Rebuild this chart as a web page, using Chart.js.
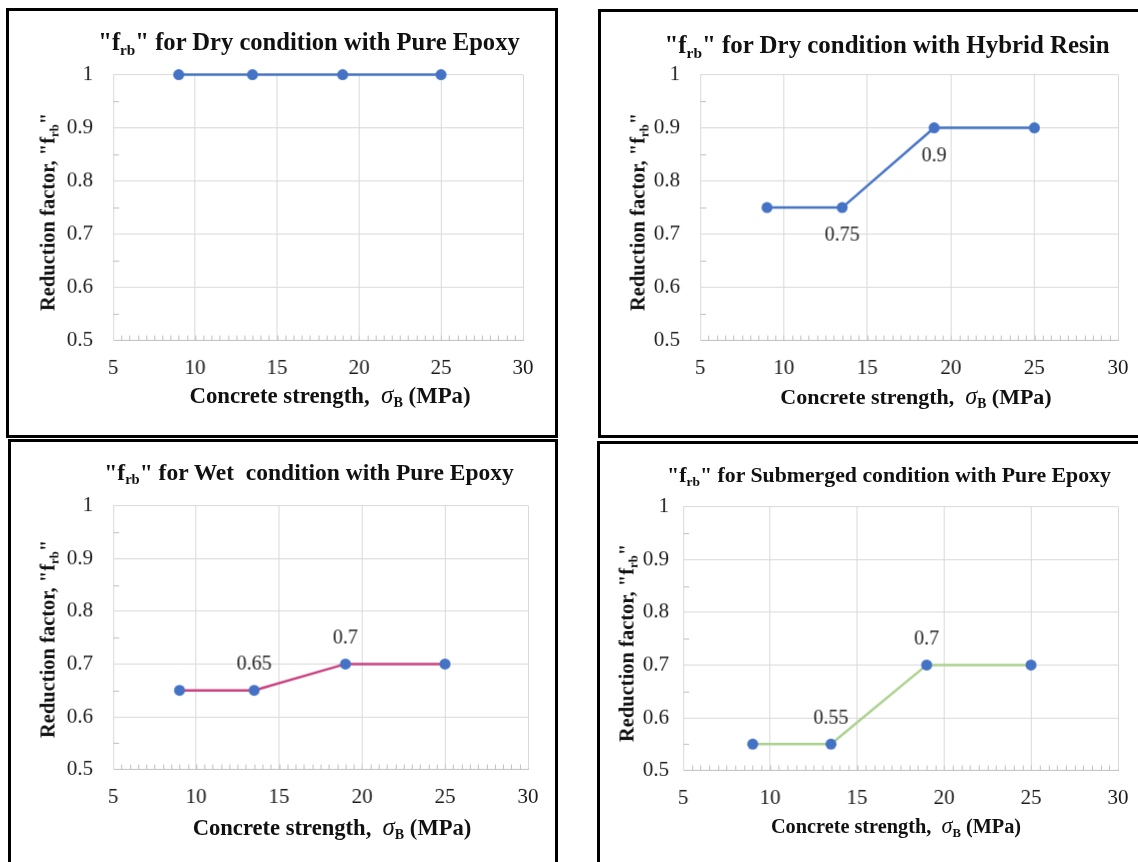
<!DOCTYPE html>
<html>
<head>
<meta charset="utf-8">
<script src="https://cdn.jsdelivr.net/npm/chart.js@4"></script>
<style>
    body { margin: 0; width: 1138px; height: 862px; background: #fff; position: relative; overflow: hidden; font-family: "Liberation Serif", "Times New Roman", Tinos, "DejaVu Serif", serif; }
    .panel { position: absolute; border: 3.5px solid #000; box-sizing: border-box; }
    canvas { position: absolute; }
    .txt { position: absolute; transform: translate(-50%, -50%); white-space: nowrap; color: #111; font-weight: bold; }
    .ytitle { font-size: 20.5px; transform: translate(-50%, -50%) rotate(-90deg); }
    sub { font-size: 0.62em; vertical-align: -0.3em; line-height: 0; }
    .sig { font-style: italic; font-weight: normal; font-size: 1.1em; }
</style>
</head>
<body>
<script>
// Data
const strength = [9, 13.5, 19, 25];
const frbDryEpoxy = [1, 1, 1, 1];
const frbDryHybrid = [0.75, 0.75, 0.9, 0.9];
const frbWetEpoxy = [0.65, 0.65, 0.7, 0.7];
const frbSubEpoxy = [0.55, 0.55, 0.7, 0.7];

const xTicks = [5, 10, 15, 20, 25, 30];
const yTicks = [0.5, 0.6, 0.7, 0.8, 0.9, 1];

// labels shown next to points: [point index, 'above' | 'below']
const dryHybridLabels = [[1, 'below'], [2, 'below']];
const wetEpoxyLabels = [[1, 'above'], [2, 'above']];
const subEpoxyLabels = [[1, 'above'], [2, 'above']];

const SERIF = '"Liberation Serif", "Times New Roman", Tinos, "DejaVu Serif", serif';

const panels = [
    {
        box: [6, 8, 552, 430],
        plot: [113, 75, 522, 340],
        title: '"f<sub>rb</sub>" for Dry condition with Pure Epoxy',
        titlePos: [309, 42], xTitlePos: [330, 395], yTitlePos: [48, 212],
        titleSize: 24.6, axisSize: 22.8, yPad: 20,
        values: frbDryEpoxy, color: '#4472C4', labels: []
    },
    {
        box: [598, 9, 560, 429],
        plot: [700, 75, 1117, 340],
        title: '"f<sub>rb</sub>" for Dry condition with Hybrid Resin',
        titlePos: [887, 45], xTitlePos: [916, 396], yTitlePos: [638, 212],
        titleSize: 24.9, axisSize: 22, yPad: 20,
        values: frbDryHybrid, color: '#4472C4', labels: dryHybridLabels
    },
    {
        box: [8, 439, 550, 440],
        plot: [113, 506, 527, 769],
        title: '"f<sub>rb</sub>" for Wet&nbsp; condition with Pure Epoxy',
        titlePos: [309, 472], xTitlePos: [332, 827], yTitlePos: [48, 639],
        titleSize: 23.5, axisSize: 22.6, yPad: 20,
        values: frbWetEpoxy, color: '#C9407F', labels: wetEpoxyLabels
    },
    {
        box: [597, 441, 560, 440],
        plot: [683, 507, 1117, 770],
        title: '"f<sub>rb</sub>" for Submerged condition with Pure Epoxy',
        titlePos: [889, 475], xTitlePos: [896, 826], yTitlePos: [627, 643],
        titleSize: 21.8, axisSize: 20.3, yPad: 14,
        values: frbSubEpoxy, color: '#A9D18E', labels: subEpoxyLabels
    }
];

const PAD_L = 72, PAD_R = 18, PAD_B = 46;

// Minor tick marks inside the plot, placed through the scales
const minorTicks = {
    id: 'minorTicks',
    afterDatasetsDraw(chart) {
        const { ctx, chartArea, scales } = chart;
        ctx.save();
        ctx.strokeStyle = '#bfbfbf';
        ctx.lineWidth = 1;
        ctx.beginPath();
        for (let v = 5.5; v < 30; v += 0.5) {
            const px = Math.round(scales.x.getPixelForValue(v)) + 0.5;
            ctx.moveTo(px, chartArea.bottom);
            ctx.lineTo(px, chartArea.bottom - 5);
        }
        for (let v = 0.55; v < 1; v += 0.1) {
            const py = Math.round(scales.y.getPixelForValue(v)) + 0.5;
            ctx.moveTo(chartArea.left, py);
            ctx.lineTo(chartArea.left + 6, py);
        }
        ctx.stroke();
        ctx.restore();
    }
};

// Value labels next to chosen points
const valueLabels = {
    id: 'valueLabels',
    afterDatasetsDraw(chart, args, opts) {
        const { ctx } = chart;
        const meta = chart.getDatasetMeta(0);
        const data = chart.data.datasets[0].data;
        ctx.save();
        ctx.font = '20px ' + SERIF;
        ctx.fillStyle = '#222';
        ctx.textAlign = 'center';
        ctx.textBaseline = 'middle';
        (opts.items || []).forEach(([i, where]) => {
            const pt = meta.data[i];
            const dy = where === 'above' ? -26 : 28;
            ctx.fillText(String(data[i].y), pt.x, pt.y + dy);
        });
        ctx.restore();
    }
};

function addText(cls, html, pos, size) {
    const d = document.createElement('div');
    d.className = 'txt ' + cls;
    d.innerHTML = html;
    d.style.left = pos[0] + 'px';
    d.style.top = pos[1] + 'px';
    if (size) d.style.fontSize = size + 'px';
    document.body.appendChild(d);
}

function makePanel(p) {
    const box = document.createElement('div');
    box.className = 'panel';
    box.style.left = p.box[0] + 'px';
    box.style.top = p.box[1] + 'px';
    box.style.width = p.box[2] + 'px';
    box.style.height = p.box[3] + 'px';
    document.body.appendChild(box);

    const [x0, y0, x1, y1] = p.plot;
    let w = (x1 - x0) + PAD_L + PAD_R;
    let h = (y1 - y0) + 20 + PAD_B;
    const canvas = document.createElement('canvas');
    canvas.width = w;
    canvas.height = h;
    document.body.appendChild(canvas);

    const chart = new Chart(canvas.getContext('2d'), {
        type: 'line',
        data: {
            datasets: [{
                data: strength.map((x, i) => ({ x: x, y: p.values[i] })),
                borderColor: p.color,
                borderWidth: 2.5,
                pointRadius: 5.5,
                pointBackgroundColor: '#4472C4',
                pointBorderWidth: 0,
                tension: 0,
                clip: false
            }]
        },
        options: {
            responsive: false,
            maintainAspectRatio: false,
            animation: false,
            devicePixelRatio: 1,
            layout: { padding: { left: 0, top: 0, right: PAD_R, bottom: 0 } },
            plugins: {
                legend: { display: false },
                tooltip: { enabled: false },
                valueLabels: { items: p.labels }
            },
            scales: {
                x: {
                    type: 'linear', min: 5, max: 30,
                    afterBuildTicks: s => { s.ticks = xTicks.map(v => ({ value: v })); },
                    afterFit: s => { s.height = PAD_B; },
                    grid: { color: '#d9d9d9', lineWidth: 1, drawTicks: false },
                    border: { color: '#bfbfbf', width: 1 },
                    ticks: {
                        padding: 15,
                        color: '#1a1a1a',
                        font: { family: SERIF, size: 21 },
                        maxRotation: 0
                    }
                },
                y: {
                    min: 0.5, max: 1,
                    afterBuildTicks: s => { s.ticks = yTicks.map(v => ({ value: v })); },
                    afterFit: s => { s.width = PAD_L; },
                    grid: { color: '#d9d9d9', lineWidth: 1, drawTicks: false },
                    border: { color: '#d9d9d9', width: 1 },
                    ticks: {
                        padding: p.yPad,
                        color: '#1a1a1a',
                        font: { family: SERIF, size: 21 },
                        callback: v => String(v)
                    }
                }
            }
        },
        plugins: [minorTicks, valueLabels]
    });

    // fit the canvas so the library's plot area lands on the wanted rectangle
    for (let k = 0; k < 2; k++) {
        const a = chart.chartArea;
        w += (x1 - x0) - (a.right - a.left);
        h += (y1 - y0) - (a.bottom - a.top);
        chart.resize(w, h);
    }
    const b = chart.chartArea;
    canvas.style.left = (x0 - b.left) + 'px';
    canvas.style.top = (y0 - b.top) + 'px';

    addText('title', p.title, p.titlePos, p.titleSize);
    addText('axis', 'Concrete strength,&nbsp; <span class="sig">σ</span><sub>B</sub> (MPa)', p.xTitlePos, p.axisSize);
    addText('ytitle', 'Reduction factor, "f<sub>rb</sub>"', p.yTitlePos);
}

document.addEventListener('DOMContentLoaded', () => {
    panels.forEach(makePanel);
});
</script>
</body>
</html>
